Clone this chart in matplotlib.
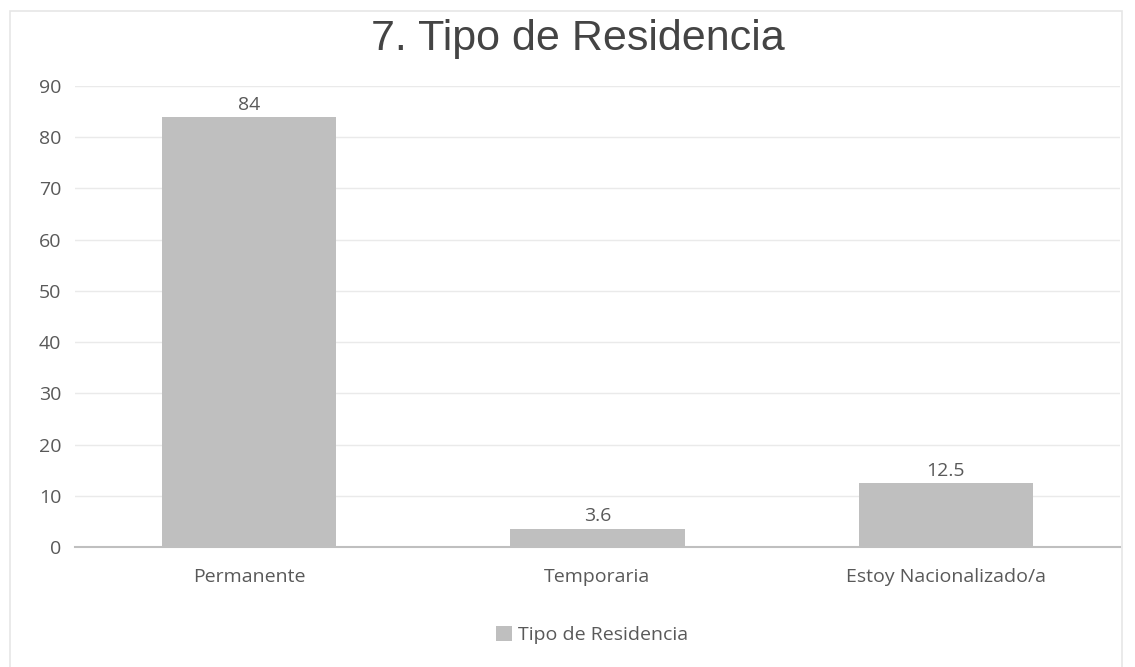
import matplotlib.pyplot as plt
from matplotlib.patches import Rectangle

categories = ["Permanente", "Temporaria", "Estoy Nacionalizado/a"]
values = [84, 3.6, 12.5]
value_labels = ["84", "3.6", "12.5"]
series_name = "Tipo de Residencia"
title = "7. Tipo de Residencia"

BAR_COLOR = "#BFBFBF"
TEXT_COLOR = "#595959"

plt.rcParams["font.family"] = ["Open Sans", "DejaVu Sans"]

fig = plt.figure(figsize=(11.35, 6.67), dpi=100)
fig.patch.set_facecolor("white")

# faint chart border (bottom edge runs off the picture)
fig.add_artist(Rectangle((10 / 1135, -0.02), 1112 / 1135, 656 / 667 + 0.02,
                         transform=fig.transFigure, fill=False,
                         edgecolor="#E6E6E6", linewidth=1.2))

ax = fig.add_axes([75 / 1135, (667 - 547) / 667, 1045 / 1135, 461 / 667])

x = range(len(categories))
bars = ax.bar(x, values, width=0.5, color=BAR_COLOR, label=series_name, zorder=2)

for b, lab in zip(bars, value_labels):
    ax.text(b.get_x() + b.get_width() / 2, b.get_height() + 0.6, lab,
            ha="center", va="bottom", fontsize=14, color=TEXT_COLOR)

ax.set_xlim(-0.5, 2.5)
ax.set_ylim(0, 90)
ax.set_yticks(range(0, 91, 10))
ax.set_xticks(list(x))
ax.set_xticklabels(categories)
ax.tick_params(axis="both", length=0, labelsize=14, colors=TEXT_COLOR)
ax.tick_params(axis="x", pad=15)
ax.tick_params(axis="y", pad=10)

ax.grid(axis="y", color="#EAEAEA", linewidth=1, zorder=0)
for s in ["top", "right", "left"]:
    ax.spines[s].set_visible(False)
ax.spines["bottom"].set_color("#BFBFBF")
ax.spines["bottom"].set_linewidth(1.5)

fig.text(578 / 1135, 1 - 39 / 667, title, ha="center", va="center",
         fontsize=31, color="#444444", family=["Liberation Sans", "DejaVu Sans"])

fig.legend(handles=[bars], labels=[series_name], loc="center",
           bbox_to_anchor=(592 / 1135, 1 - 635 / 667), frameon=False,
           fontsize=14, labelcolor=TEXT_COLOR, handlelength=0.8,
           handleheight=0.8, handletextpad=0.3)

fig.savefig("out.png", dpi=100)
